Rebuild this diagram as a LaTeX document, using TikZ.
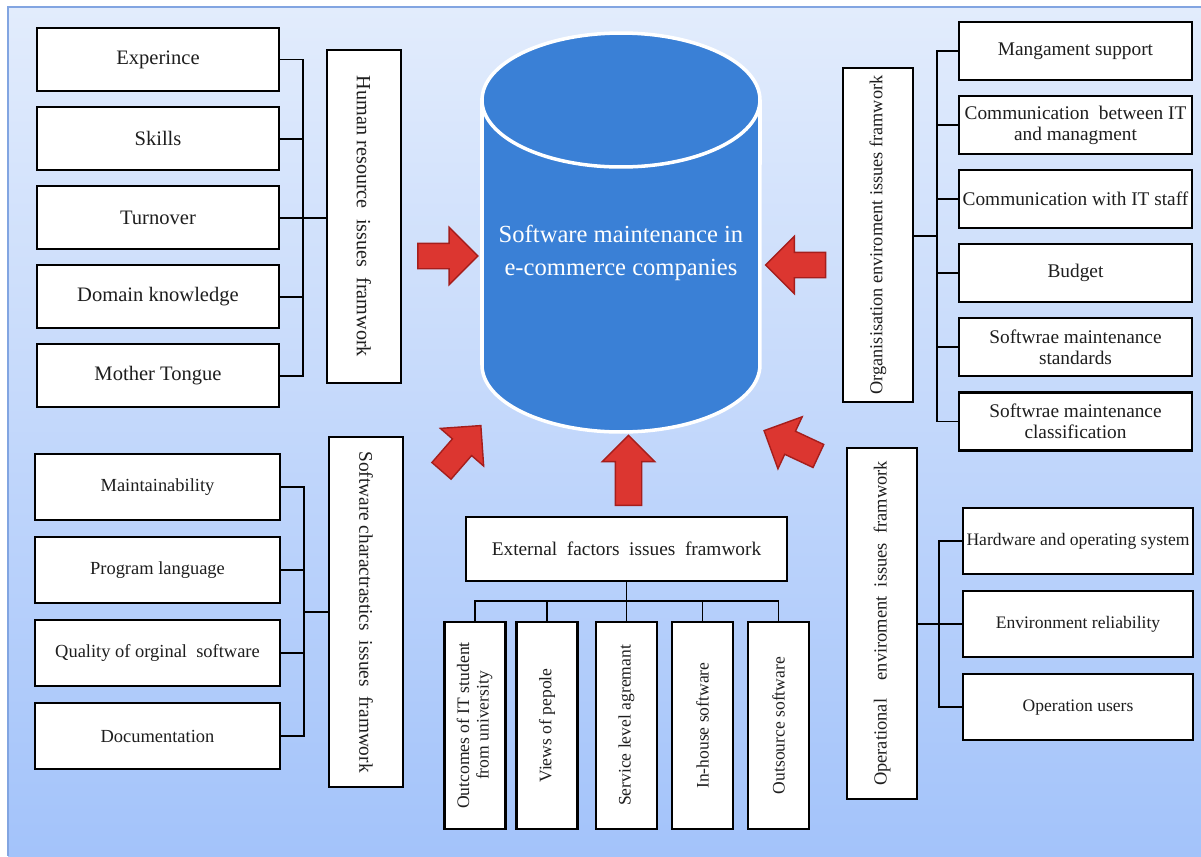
\documentclass[tikz,border=0pt]{standalone}
\usepackage{fontspec}
\setmainfont{Liberation Serif}
\usetikzlibrary{shapes.arrows,positioning}
\definecolor{bgtop}{RGB}{226,236,252}
\definecolor{bgbottom}{RGB}{163,195,250}
\definecolor{frameblue}{RGB}{130,165,225}
\definecolor{cylblue}{RGB}{58,128,214}
\definecolor{arrowred}{RGB}{220,54,48}
\definecolor{arrowdark}{RGB}{165,30,28}
\definecolor{textgray}{RGB}{30,30,30}

\tikzset{
  item/.style={rectangle, draw, line width=1.2pt, fill=white, text=textgray, align=center, inner sep=1pt},
  hritem/.style={item, minimum width=4.84cm, minimum height=1.26cm, font=\fontsize{11.7}{13}\selectfont},
  scitem/.style={item, minimum width=4.9cm, minimum height=1.32cm, font=\fontsize{10.5}{12}\selectfont},
  orgitem/.style={item, minimum width=4.66cm, minimum height=1.16cm, font=\fontsize{11}{12}\selectfont},
  opitem/.style={item, minimum width=4.6cm, minimum height=1.32cm, font=\fontsize{10}{12}\selectfont},
  extitem/.style={item, minimum width=1.22cm, minimum height=4.14cm, font=\fontsize{10}{11}\selectfont},
  frame/.style={item, inner sep=0pt},
  link/.style={line width=1.1pt},
  bigarrow/.style={single arrow, draw=arrowdark, fill=arrowred, line width=0.8pt, inner xsep=0pt, inner ysep=0.24cm,
    minimum width=1.12cm, single arrow head extend=0.32cm, minimum height=1.2cm},
}

\begin{document}
\begin{tikzpicture}[x=0.02cm, y=-0.02cm]
\useasboundingbox (0,0) rectangle (1201,856);
\fill[white] (0,0) rectangle (1201,856);
\shade[top color=bgtop, bottom color=bgbottom] (8,7) rectangle (1201,856);
\draw[frameblue, line width=0.8pt] (8,856) -- (8,7) -- (1201,7);

% central store
\filldraw[fill=cylblue, draw=white, line width=2pt] (482,100) -- (482,365)
  arc[start angle=180, end angle=360, x radius=2.78cm, y radius=1.34cm] -- (760,100)
  arc[start angle=0, end angle=180, x radius=2.78cm, y radius=1.34cm] -- cycle;
\draw[white, line width=2pt] (482,100) arc[start angle=180, end angle=360, x radius=2.78cm, y radius=1.34cm];
\node[text=white, align=center, font=\fontsize{14}{18.7}\selectfont] (core) at (621,253) {Software maintenance in\\e-commerce companies};

% human resource
\node[hritem] (exp) at (158,59.5) {Experince};
\node[hritem, below=0.28cm of exp] (skills) {Skills};
\node[hritem, below=0.28cm of skills] (turn) {Turnover};
\node[hritem, below=0.28cm of turn] (dom) {Domain knowledge};
\node[hritem, below=0.28cm of dom] (mt) {Mother Tongue};
\node[frame, minimum width=1.48cm, minimum height=6.66cm, font=\fontsize{11.5}{13}\selectfont] (hr) at (364,216.5)
  {\rotatebox{-90}{Human resource\ \ issues\ \ framwork}};
\coordinate (hrbus) at (303,217);
\draw[link] (exp.east) -| (hrbus) |- (mt.east);
\draw[link] (skills.east) -- (skills.east -| hrbus);
\draw[link] (dom.east) -- (dom.east -| hrbus);
\draw[link] (turn.east) -- (turn.east -| hr.west);

% software characteristics
\node[scitem] (maint) at (157.5,487) {Maintainability};
\node[scitem, below=0.3cm of maint] (prog) {Program language};
\node[scitem, below=0.3cm of prog] (qual) {Quality of orginal\ \ software};
\node[scitem, below=0.3cm of qual] (doc) {Documentation};
\node[frame, minimum width=1.48cm, minimum height=7cm, font=\fontsize{11}{13}\selectfont] (sc) at (366,612)
  {\rotatebox{-90}{Software charactrastics\ \ issues\ \ framwork}};
\coordinate (scbus) at (304,612);
\draw[link] (maint.east) -| (scbus) |- (doc.east);
\draw[link] (prog.east) -- (prog.east -| scbus);
\draw[link] (qual.east) -- (qual.east -| scbus);
\draw[link] (scbus) -- (scbus -| sc.west);

% organisation environment
\node[orgitem] (mgmt) at (1075.5,51) {Mangament support};
\node[orgitem, below=0.28cm of mgmt] (comit) {Communication\ \ between IT\\and managment};
\node[orgitem, below=0.28cm of comit] (staff) {Communication with IT staff};
\node[orgitem, below=0.28cm of staff] (budget) {Budget};
\node[orgitem, below=0.28cm of budget] (std) {Softwrae maintenance\\standards};
\node[orgitem, below=0.28cm of std] (cls) {Softwrae maintenance\\classification};
\node[frame, minimum width=1.4cm, minimum height=6.68cm, font=\fontsize{10.4}{12}\selectfont] (org) at (878,235)
  {\rotatebox{90}{Organisisation enviroment issues framwork}};
\coordinate (orgbus) at (937,236);
\draw[link] (mgmt.west) -| (orgbus) |- (cls.west);
\draw[link] (comit.west) -- (comit.west -| orgbus);
\draw[link] (staff.west) -- (staff.west -| orgbus);
\draw[link] (budget.west) -- (budget.west -| orgbus);
\draw[link] (std.west) -- (std.west -| orgbus);
\draw[link] (org.east |- orgbus) -- (orgbus);

% operational environment
\node[opitem] (hw) at (1078,541) {Hardware and operating system};
\node[opitem, below=0.3cm of hw] (env) {Environment reliability};
\node[opitem, below=0.3cm of env] (users) {Operation users};
\node[frame, minimum width=1.4cm, minimum height=7.02cm, font=\fontsize{10.5}{12}\selectfont] (op) at (882,623.5)
  {\rotatebox{90}{Operational\quad enviroment\ \ issues\ \ framwork}};
\coordinate (opbus) at (939,624);
\draw[link] (hw.west) -| (opbus) |- (users.west);
\draw[link] (op.east |- env.west) -- (env.west);

% external factors
\node[frame, minimum width=6.42cm, minimum height=1.28cm, font=\fontsize{11}{12}\selectfont] (ext) at (626.5,549)
  {External\ \ factors\ \ issues\ \ framwork};
\node[extitem] (univ) at (475,725.5) {\rotatebox{90}{\begin{tabular}{@{}c@{}}Outcomes of IT student\\from university\end{tabular}}};
\node[extitem] (views) at (547,725.5) {\rotatebox{90}{Views of pepole}};
\node[extitem] (sla) at (626.5,725.5) {\rotatebox{90}{Service level agremant}};
\node[extitem] (inhouse) at (702.5,725.5) {\rotatebox{90}{In-house software}};
\node[extitem] (outsrc) at (778.5,725.5) {\rotatebox{90}{Outsource software}};
\coordinate (extbus) at (626.5,601);
\draw[link] (ext.south) -- (sla.north);
\draw[link] (univ.north) |- (extbus) -| (outsrc.north);
\draw[link] (views.north) -- (views.north |- extbus);
\draw[link] (inhouse.north) -- (inhouse.north |- extbus);

% arrows into the store
\node[bigarrow] (arrhr) at (441.5,256) {};
\node[bigarrow, rotate=180] (arrorg) at (802,265) {};
\node[bigarrow, rotate=90, minimum height=1.4cm, minimum width=1.02cm, inner ysep=0.25cm, single arrow head extend=0.26cm] (arrext) at (628.5,477) {};
\node[bigarrow, rotate=49] (arrsc) at (457,453) {};
\node[bigarrow, rotate=155] (arrop) at (797,446) {};
\end{tikzpicture}
\end{document}
